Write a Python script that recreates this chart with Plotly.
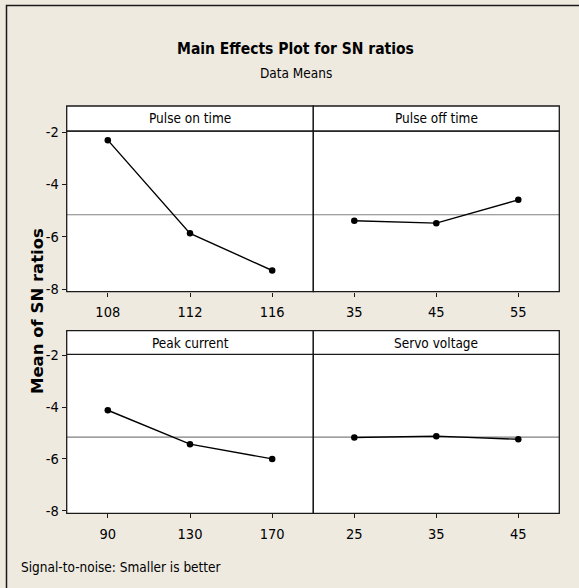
import plotly.graph_objects as go

W, H = 579, 588

factors = ["Pulse on time", "Pulse off time", "Peak current", "Servo voltage"]
levels_pulse_on = ["108", "112", "116"]
levels_pulse_off = ["35", "45", "55"]
levels_peak = ["90", "130", "170"]
levels_servo = ["25", "35", "45"]
sn_pulse_on = [-2.31, -5.87, -7.29]
sn_pulse_off = [-5.39, -5.48, -4.59]
sn_peak = [-4.12, -5.43, -6.00]
sn_servo = [-5.17, -5.12, -5.24]
overall_mean = -5.16
y_ticks = [-2, -4, -6, -8]

BG = "#EEEAE0"
LINE = "#1a1a1a"
FONT = "Liberation Sans Narrow, DejaVu Sans Condensed, Arial Narrow, sans-serif"


def px(x):
    return x / W


def py(y):
    return 1 - y / H


# panel pixel geometry
cols = [(66.7, 313.3), (313.3, 559.3)]
rows = [(106, 131, 291.7), (330.7, 354.3, 513.3)]  # strip top, data top, data bottom

levels = [levels_pulse_on, levels_pulse_off, levels_peak, levels_servo]
values = [sn_pulse_on, sn_pulse_off, sn_peak, sn_servo]

fig = go.Figure()
layout = dict(
    width=W, height=H,
    margin=dict(l=0, r=0, t=0, b=0, autoexpand=False),
    paper_bgcolor=BG, plot_bgcolor="white",
    showlegend=False,
    font=dict(family=FONT, color="black", size=13),
)
shapes = []
annotations = []

for i in range(4):
    r, c = divmod(i, 2)
    x0, x1 = cols[c]
    st, dt, db = rows[r]
    n = i + 1
    xa = "xaxis" if n == 1 else f"xaxis{n}"
    ya = "yaxis" if n == 1 else f"yaxis{n}"
    xref = "x" if n == 1 else f"x{n}"
    yref = "y" if n == 1 else f"y{n}"
    fig.add_trace(go.Scatter(
        x=levels[i], y=values[i], xaxis=xref, yaxis=yref,
        mode="lines+markers",
        line=dict(color="black", width=1.4),
        marker=dict(color="black", size=6.5),
        hoverinfo="skip",
    ))
    layout[xa] = dict(
        domain=[px(x0), px(x1)], anchor=yref, type="category",
        range=[-0.5, 2.5], showgrid=False, zeroline=False,
        showline=False, automargin=False,
        ticks="outside", ticklen=4, tickcolor=LINE, tickwidth=1,
        ticklabelstandoff=3,
        tickfont=dict(size=14.5, family=FONT), fixedrange=True,
    )
    layout[ya] = dict(
        domain=[py(db), py(dt)], anchor=xref,
        range=[-8.1, -1.96], showgrid=False, zeroline=False,
        showline=False, automargin=False,
        tickvals=y_ticks, ticktext=[str(v) for v in y_ticks],
        ticks="outside" if c == 0 else "", ticklen=4, tickcolor=LINE,
        showticklabels=(c == 0),
        tickfont=dict(size=14.5, family=FONT), fixedrange=True,
    )
    # overall mean reference line across full panel
    shapes.append(dict(type="line", xref="paper", yref=yref,
                       x0=px(x0), x1=px(x1), y0=overall_mean, y1=overall_mean,
                       line=dict(color="#7f7f7f", width=1.2), layer="below"))
    # panel frame
    shapes.append(dict(type="rect", xref="paper", yref="paper",
                       x0=px(x0), x1=px(x1), y0=py(db), y1=py(dt),
                       line=dict(color=LINE, width=1.3)))
    # strip
    shapes.append(dict(type="rect", xref="paper", yref="paper",
                       x0=px(x0), x1=px(x1), y0=py(dt), y1=py(st),
                       fillcolor="white", line=dict(color=LINE, width=1.3)))
    annotations.append(dict(text=factors[i], xref="paper", yref="paper",
                            x=(px(x0) + px(x1)) / 2, y=(py(dt) + py(st)) / 2,
                            xanchor="center", yanchor="middle", showarrow=False,
                            font=dict(size=13.5, family=FONT)))

# outer frame (left and top edges visible)
shapes.append(dict(type="rect", xref="paper", yref="paper",
                   x0=px(6.5), x1=px(620), y0=py(620), y1=py(5.5),
                   line=dict(color=LINE, width=1.5)))

annotations += [
    dict(text="<b>Main Effects Plot for SN ratios</b>", xref="paper", yref="paper",
         x=px(295), y=py(49), xanchor="center", yanchor="middle",
         showarrow=False, font=dict(size=15.5, family=FONT, color="black")),
    dict(text="Data Means", xref="paper", yref="paper",
         x=px(296), y=py(73), xanchor="center", yanchor="middle",
         showarrow=False, font=dict(size=13.5, family=FONT)),
    dict(text="<b>Mean of SN ratios</b>", xref="paper", yref="paper",
         x=px(37), y=py(311), xanchor="center", yanchor="middle", textangle=-90,
         showarrow=False, font=dict(size=16.5, family="DejaVu Sans, Verdana, sans-serif")),
    dict(text="Signal-to-noise: Smaller is better", xref="paper", yref="paper",
         x=px(19), y=py(567), xanchor="left", yanchor="middle",
         showarrow=False, font=dict(size=13.5, family=FONT)),
]

layout["shapes"] = shapes
layout["annotations"] = annotations
fig.update_layout(**layout)
fig.write_html("out.html", config={"displayModeBar": False},
               post_script="document.body.style.margin='0px';")
